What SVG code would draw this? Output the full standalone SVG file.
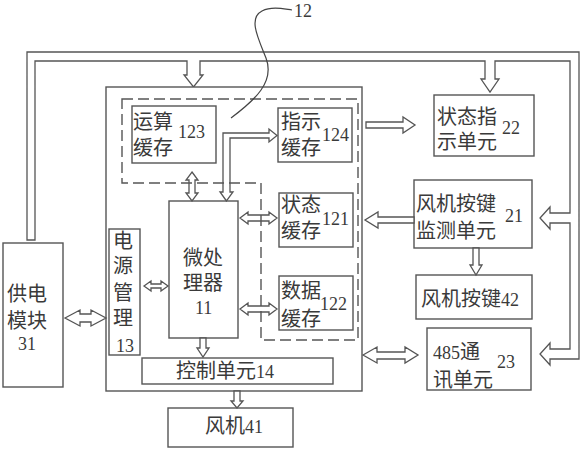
<svg xmlns="http://www.w3.org/2000/svg" width="581" height="450" viewBox="0 0 581 450">
<style>
.b{fill:#fff;stroke:#555;stroke-width:1.4}
.a{fill:#fff;stroke:#555;stroke-width:1.3;stroke-linejoin:miter}
.d{fill:none;stroke:#555;stroke-width:1.4;stroke-dasharray:11 5}
.t{font-family:"Liberation Serif","Noto Sans CJK SC",serif;font-size:20px;fill:#3a3a3a}
.n{font-size:18px}
</style>
<rect width="581" height="450" fill="#fff"/>
<g id="connectors">
<polygon class="a" points="27,240 27,52 579,52 579,359 550,359 550,365 540,354 550,343 550,349 570,349 570,223 550,223 550,229 540,218 550,207 550,213 570,213 570,61 495,61 495,79 499,79 490,92 481,79 485,79 485,61 200,61 200,75 203,75 193.5,87 184,75 187,75 187,61 35,61 35,240"/>
</g>
<g id="main"><rect class="b" x="106" y="87" width="256" height="304"/></g>
<g id="n123"><rect class="b" x="132" y="106" width="84" height="57"/>
<text class="t" x="133" y="129">运算</text><text class="t" x="133" y="155">缓存</text><text class="t n" x="178" y="138">123</text></g>
<g id="n124"><rect class="b" x="278" y="108" width="74" height="54"/>
<text class="t" x="281" y="129">指示</text><text class="t" x="281" y="155">缓存</text><text class="t n" x="322" y="141">124</text></g>
<g id="n121"><rect class="b" x="279" y="193" width="74" height="54"/>
<text class="t" x="281" y="212">状态</text><text class="t" x="281" y="238">缓存</text><text class="t n" x="322" y="225">121</text></g>
<g id="n122"><rect class="b" x="279" y="276" width="74" height="54"/>
<text class="t" x="281" y="298">数据</text><text class="t" x="281" y="326">缓存</text><text class="t n" x="320" y="310">122</text></g>
<g id="n11"><rect class="b" x="169" y="201" width="69" height="137"/>
<text class="t" x="183" y="265">微处</text><text class="t" x="183" y="290">理器</text><text class="t n" x="195" y="314">11</text></g>
<g id="n13"><rect class="b" x="109" y="229" width="31" height="126"/>
<text class="t" x="113" y="248">电</text><text class="t" x="113" y="273">源</text><text class="t" x="113" y="300">管</text><text class="t" x="113" y="325">理</text><text class="t n" x="116" y="352">13</text></g>
<g id="n14"><rect class="b" x="142" y="358" width="191" height="26"/>
<text class="t" x="176" y="378">控制单元<tspan class="n">14</tspan></text></g>
<g id="n41"><rect class="b" x="168" y="408" width="125" height="39"/>
<text class="t" x="205" y="433">风机<tspan class="n">41</tspan></text></g>
<g id="n31"><rect class="b" x="3" y="243" width="60" height="144"/>
<text class="t" x="7" y="301">供电</text><text class="t" x="7" y="328">模块</text><text class="t n" x="18" y="350">31</text></g>
<g id="n22"><rect class="b" x="434" y="95" width="100" height="61"/>
<text class="t" x="437" y="124">状态指</text><text class="t" x="437" y="149">示单元</text><text class="t n" x="502" y="134">22</text></g>
<g id="n21"><rect class="b" x="414" y="180" width="118" height="68"/>
<text class="t" x="416" y="211">风机按键</text><text class="t" x="416" y="238">监测单元</text><text class="t n" x="505" y="222">21</text></g>
<g id="n42"><rect class="b" x="416" y="275" width="116" height="44"/>
<text class="t" x="421" y="306">风机按键<tspan class="n">42</tspan></text></g>
<g id="n23"><rect class="b" x="427" y="328" width="104" height="62"/>
<text class="t" x="433" y="359"><tspan class="n">485</tspan>通</text><text class="t" x="433" y="387">讯单元</text><text class="t n" x="497" y="368">23</text></g>
<g id="arrows">
<polygon class="a" points="366,122 403,122 403,117 415,125 403,133 403,128 366,128"/>
<polygon class="a" points="414,217 378,217 378,212 365,220 378,228 378,223 414,223"/>
<polygon class="a" points="473,248 479,248 479,265 482,265 476,275 470,265 473,265"/>
<polygon class="a" points="234,391 240,391 240,401 243,401 237,408 231,401 234,401"/>
<polygon class="a" points="200,338 206,338 206,348 209,348 203,357 197,348 200,348"/>
<polygon class="a" points="363,355 377,347 377,352 405,352 405,347 418,355 405,363 405,359 377,359 377,363"/>
<polygon class="a" points="65,318 80,310 80,314 91,314 91,310 106,318 91,326 91,322 80,322 80,326"/>
<polygon class="a" points="144,286 151,281 151,284 161,284 161,281 168,286 161,291 161,288 151,288 151,291"/>
<polygon class="a" points="240,218 248,212 248,215 269,215 269,212 277,218 269,224 269,221 248,221 248,224"/>
<polygon class="a" points="240,309 248,303 248,306 269,306 269,303 277,309 269,315 269,312 248,312 248,315"/>
<polygon class="a" points="192,172 198,180 195,180 195,193 198,193 192,201 186,193 189,193 189,180 186,180"/>
<polygon class="a" points="226.5,201 220,192 223,192 223,133 269,133 269,129 277,135.5 269,142 269,138 230,138 230,192 233,192"/>
</g>
<g id="n12">
<path class="d" d="M122,99 H358 V340 H261 V183 H122 Z"/>
<path d="M231,118 C255,100 275,82 266,58 C258,38 248,18 262,11 C272,6 284,9 292,10" fill="none" stroke="#444" stroke-width="1.2"/>
<text class="t n" x="294" y="17">12</text>
</g>
</svg>
